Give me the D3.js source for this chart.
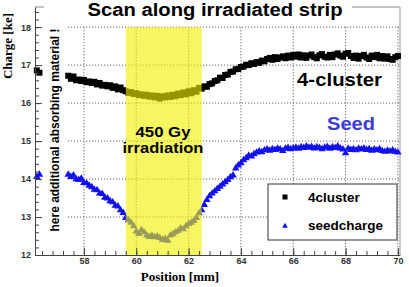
<!DOCTYPE html>
<html>
<head>
<meta charset="utf-8">
<script src="https://cdn.jsdelivr.net/npm/d3@7"></script>
<style>
  body { margin: 0; background: #fff; }
  svg { display: block; }
</style>
</head>
<body>
<div id="chart"></div>
<script>
// dimensions
const width = 409;
const height = 287;

// scan positions [mm]
const positions = [
  57.4, 57.5, 57.6, 57.7, 57.8, 57.9, 58.0, 58.1, 58.2, 58.3, 58.4, 58.5, 58.6, 58.7, 58.8, 58.9,
  59.0, 59.1, 59.2, 59.3, 59.4, 59.5, 59.6, 59.7, 59.8, 59.9, 60.0, 60.1, 60.2, 60.3, 60.4, 60.5,
  60.6, 60.7, 60.8, 60.9, 61.0, 61.1, 61.2, 61.3, 61.4, 61.5, 61.6, 61.7, 61.8, 61.9, 62.0, 62.1,
  62.2, 62.3, 62.4, 62.5, 62.6, 62.7, 62.8, 62.9, 63.0, 63.1, 63.2, 63.3, 63.4, 63.5, 63.6, 63.7,
  63.8, 63.9, 64.0, 64.1, 64.2, 64.3, 64.4, 64.5, 64.6, 64.7, 64.8, 64.9, 65.0, 65.1, 65.2, 65.3,
  65.4, 65.5, 65.6, 65.7, 65.8, 65.9, 66.0, 66.1, 66.2, 66.3, 66.4, 66.5, 66.6, 66.7, 66.8, 66.9,
  67.0, 67.1, 67.2, 67.3, 67.4, 67.5, 67.6, 67.7, 67.8, 67.9, 68.0, 68.1, 68.2, 68.3, 68.4, 68.5,
  68.6, 68.7, 68.8, 68.9, 69.0, 69.1, 69.2, 69.3, 69.4, 69.5, 69.6, 69.7, 69.8, 69.9, 70.0
];

// 4cluster charge [ke]
const cluster4 = [
  16.72, 16.64, 16.70, 16.60, 16.62, 16.58, 16.61, 16.55, 16.57, 16.53, 16.56, 16.49, 16.53, 16.46, 16.48, 16.44,
  16.47, 16.40, 16.44, 16.36, 16.41, 16.34, 16.31, 16.27, 16.29, 16.24, 16.26, 16.21, 16.23, 16.19, 16.22, 16.17,
  16.20, 16.15, 16.19, 16.12, 16.18, 16.15, 16.20, 16.16, 16.22, 16.18, 16.25, 16.21, 16.28, 16.23, 16.31, 16.26,
  16.34, 16.30, 16.40, 16.38, 16.44, 16.43, 16.50, 16.52, 16.58, 16.60, 16.67, 16.66, 16.74, 16.75, 16.82, 16.83,
  16.89, 16.90, 16.95, 16.96, 17.01, 17.00, 17.05, 17.03, 17.08, 17.06, 17.12, 17.10, 17.16, 17.19, 17.14, 17.21,
  17.16, 17.20, 17.23, 17.18, 17.25, 17.20, 17.27, 17.22, 17.28, 17.20, 17.26, 17.19, 17.25, 17.28, 17.21, 17.18,
  17.26, 17.29, 17.22, 17.20, 17.27, 17.21, 17.28, 17.31, 17.25, 17.22, 17.30, 17.32, 17.24, 17.19, 17.25, 17.17,
  17.24, 17.27, 17.20, 17.16, 17.25, 17.21, 17.27, 17.18, 17.24, 17.17, 17.23, 17.16, 17.14, 17.21, 17.24
];

// seed charge [ke]
const seed = [
  14.12, 14.06, 14.10, 14.00, 13.98, 14.01, 13.90, 13.89, 13.83, 13.79, 13.72, 13.71, 13.62, 13.61, 13.51, 13.49,
  13.42, 13.39, 13.30, 13.28, 13.18, 13.11, 12.98, 12.92, 12.85, 12.76, 12.62, 12.56, 12.66, 12.60, 12.52, 12.48,
  12.51, 12.47, 12.49, 12.45, 12.40, 12.43, 12.38, 12.52, 12.55, 12.60, 12.64, 12.70, 12.68, 12.76, 12.82, 12.85,
  12.90, 12.98, 13.10, 13.18, 13.32, 13.45, 13.55, 13.62, 13.68, 13.74, 13.80, 13.86, 13.92, 13.98, 14.05, 14.10,
  14.28, 14.36, 14.42, 14.50, 14.55, 14.62, 14.60, 14.66, 14.70, 14.73, 14.71, 14.76, 14.78, 14.75, 14.79, 14.77,
  14.80, 14.78, 14.74, 14.80, 14.82, 14.79, 14.81, 14.83, 14.80, 14.84, 14.82, 14.86, 14.83, 14.85, 14.81, 14.84,
  14.82, 14.79, 14.83, 14.85, 14.80, 14.84, 14.82, 14.86, 14.81, 14.78, 14.68, 14.80, 14.77, 14.79, 14.76, 14.80,
  14.78, 14.81, 14.77, 14.79, 14.75, 14.78, 14.76, 14.79, 14.74, 14.72, 14.75, 14.73, 14.76, 14.72, 14.70
];

// isolated points at the left edge
const extraPos = [56.2, 56.3];
const extraCluster = [16.86, 16.80];
const extraSeed = [14.06, 14.12];

// axes
const xTicks = [58, 60, 62, 64, 66, 68, 70];
const yTicks = [12, 13, 14, 15, 16, 17, 18];
const irradiated = [59.6, 62.5];

const x = d3.scaleLinear().domain([56.13, 70.08]).range([35, 400]);
const y = d3.scaleLinear().domain([12, 18.53]).range([255, 7]);

const svg = d3.select("#chart").append("svg")
  .attr("width", width)
  .attr("height", height)
  .style("font-family", "'Liberation Sans', Arial, sans-serif");

// frame (top + right)
svg.append("line").attr("x1", x.range()[0]).attr("x2", x.range()[1])
  .attr("y1", y.range()[1]).attr("y2", y.range()[1]).attr("stroke", "#888");
svg.append("line").attr("x1", x.range()[1]).attr("x2", x.range()[1])
  .attr("y1", y.range()[1]).attr("y2", y.range()[0]).attr("stroke", "#999");

// grid (dotted)
const grid = svg.append("g").attr("stroke", "#666").attr("stroke-dasharray", "1.2,1.8");
grid.selectAll(".hg").data(yTicks.slice(1)).join("line")
  .attr("x1", 68).attr("x2", 400)
  .attr("y1", d => y(d)).attr("y2", d => y(d));
grid.selectAll(".vg").data(xTicks).join("line")
  .attr("x1", d => x(d)).attr("x2", d => x(d))
  .attr("y1", y(18)).attr("y2", y(12));

// markers
const pts4 = positions.map((p, i) => [p, cluster4[i]]).concat(extraPos.map((p, i) => [p, extraCluster[i]]));
const ptsS = positions.map((p, i) => [p, seed[i]]).concat(extraPos.map((p, i) => [p, extraSeed[i]]));

svg.append("g").selectAll("rect").data(pts4).join("rect")
  .attr("x", d => x(d[0]) - 3).attr("y", d => y(d[1]) - 3)
  .attr("width", 6).attr("height", 6).attr("fill", "#000");

const tri = d3.symbol(d3.symbolTriangle, 24);
svg.append("g").selectAll("path").data(ptsS).join("path")
  .attr("transform", d => `translate(${x(d[0])},${y(d[1])})`)
  .attr("d", tri).attr("fill", "#1010f0");

// irradiated band
svg.append("rect")
  .attr("x", x(irradiated[0])).attr("width", x(irradiated[1]) - x(irradiated[0]))
  .attr("y", y(18)).attr("height", y(12) - y(18))
  .attr("fill", "#f0f000").attr("opacity", 0.62);

// axes
svg.append("g").attr("transform", `translate(${x.range()[0]},0)`)
  .call(d3.axisLeft(y).tickValues(yTicks).tickSize(-7).tickSizeOuter(0).tickPadding(4).tickFormat(d3.format("d")));
svg.append("g").attr("transform", `translate(${x.range()[0]},0)`)
  .call(d3.axisLeft(y).tickValues(d3.range(12.2, 18.5, 0.2)).tickSize(-4).tickFormat(""))
  .call(g => g.select(".domain").remove());

svg.append("g").attr("transform", `translate(0,${y.range()[0]})`)
  .call(d3.axisBottom(x).tickValues(xTicks).tickSize(-7).tickSizeOuter(0).tickPadding(3).tickFormat(d3.format("d")));
svg.append("g").attr("transform", `translate(0,${y.range()[0]})`)
  .call(d3.axisBottom(x).tickValues(d3.range(56.4, 70.01, 0.4)).tickSize(-4).tickFormat(""))
  .call(g => g.select(".domain").remove());

svg.selectAll(".domain").attr("stroke", "#444");
svg.selectAll(".tick line").attr("stroke", "#444");
svg.selectAll(".tick text")
  .attr("fill", "#333")
  .style("font-size", "9px")
  .style("font-weight", "bold")
  .style("font-family", "'Liberation Sans', Arial, sans-serif");

// title
svg.append("rect").attr("x", 44).attr("y", 0).attr("width", 308).attr("height", 20).attr("fill", "#fff");
svg.append("text").attr("x", 215).attr("y", 16).attr("text-anchor", "middle")
  .attr("textLength", 255).attr("lengthAdjust", "spacingAndGlyphs")
  .style("font-size", "17.5px").style("font-weight", "bold")
  .text("Scan along irradiated strip");

// axis titles
svg.append("text").attr("transform", "translate(12,13) rotate(-90)")
  .attr("text-anchor", "end")
  .style("font-family", "'Liberation Serif', 'Times New Roman', serif")
  .style("font-size", "13px").style("font-weight", "bold")
  .text("Charge [ke]");
svg.append("text").attr("x", 180).attr("y", 281).attr("text-anchor", "middle")
  .style("font-family", "'Liberation Serif', 'Times New Roman', serif")
  .style("font-size", "13px").style("font-weight", "bold")
  .text("Position [mm]");

// annotations
svg.append("text").attr("transform", "translate(59,130) rotate(-90)")
  .attr("text-anchor", "middle")
  .attr("textLength", 203).attr("lengthAdjust", "spacingAndGlyphs")
  .style("font-size", "12px").style("font-weight", "bold")
  .text("here additional absorbing material !");

svg.append("text").attr("x", 163).attr("y", 137).attr("text-anchor", "middle")
  .attr("textLength", 55).attr("lengthAdjust", "spacingAndGlyphs")
  .style("font-size", "14px").style("font-weight", "bold").text("450 Gy");
svg.append("text").attr("x", 163).attr("y", 153).attr("text-anchor", "middle")
  .attr("textLength", 81).attr("lengthAdjust", "spacingAndGlyphs")
  .style("font-size", "14px").style("font-weight", "bold").text("irradiation");

svg.append("text").attr("x", 297).attr("y", 86)
  .attr("textLength", 85).attr("lengthAdjust", "spacingAndGlyphs")
  .style("font-size", "17.5px").style("font-weight", "bold").text("4-cluster");
svg.append("text").attr("x", 327).attr("y", 130)
  .attr("textLength", 48).attr("lengthAdjust", "spacingAndGlyphs")
  .attr("fill", "#3b3bd8")
  .style("font-size", "17.5px").style("font-weight", "bold").text("Seed");

// legend
const leg = svg.append("g");
leg.append("rect").attr("x", 268).attr("y", 184).attr("width", 129).attr("height", 56)
  .attr("fill", "#fff").attr("stroke", "#333");
leg.append("rect").attr("x", 282.5).attr("y", 194.5).attr("width", 5).attr("height", 5).attr("fill", "#000");
leg.append("path").attr("transform", "translate(285,226)").attr("d", d3.symbol(d3.symbolTriangle, 14)).attr("fill", "#1010f0");
leg.append("text").attr("x", 308).attr("y", 202)
  .style("font-size", "13.5px").style("font-weight", "bold").text("4cluster");
leg.append("text").attr("x", 308).attr("y", 230)
  .style("font-size", "13.5px").style("font-weight", "bold").text("seedcharge");
</script>
</body>
</html>
